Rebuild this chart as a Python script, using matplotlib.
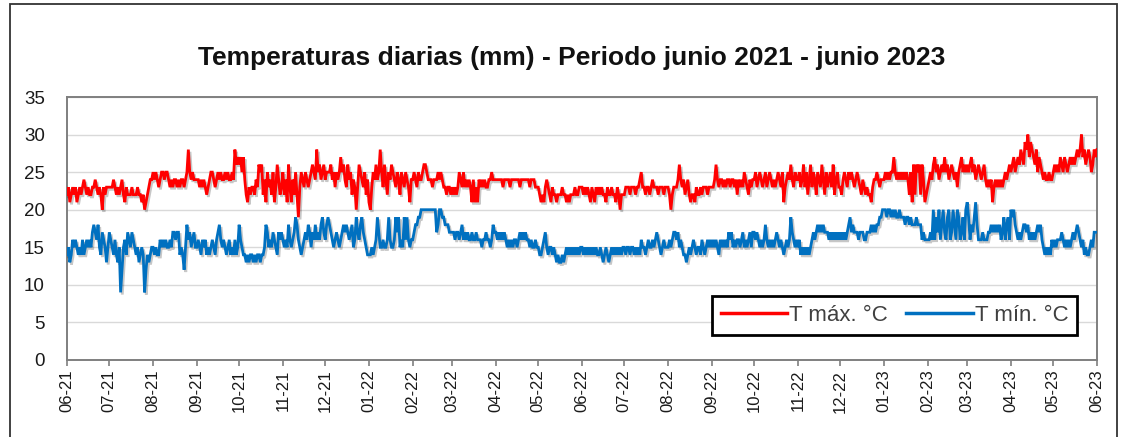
import matplotlib
matplotlib.use("Agg")
import matplotlib.pyplot as plt
import matplotlib.dates as mdates
import matplotlib.patheffects as pe
from matplotlib.patches import Rectangle
import pandas as pd

# ---------------- data (daily values) ----------------
start_date = "2021-06-01"
end_date = "2023-06-01"

tmax_2021 = [
    # Jun
    22,23,21,22,23,22,23,21,22,23, 22,23,24,23,22,23,22,22,23,23, 24,23,22,23,22,20,23,22,23,23,
    # Jul
    23,23,23,24,23,22,23,22,23,24, 22,21,23,22,22,22,23,22,22,22, 23,22,22,21,22,20,21,22,23,24, 24,
    # Aug
    25,24,25,24,23,24,25,25,24,25, 25,24,23,24,23,24,24,23,24,23, 24,24,23,24,25,28,25,24,25,24, 24,
    # Sep
    24,24,23,24,23,24,23,22,23,24, 25,25,24,23,24,25,24,25,24,24, 25,24,25,24,24,25,24,28,26,27,
    # Oct
    26,27,25,27,24,22,21,23,22,23, 23,22,24,23,26,25,26,22,24,21, 25,23,24,22,25,21,23,26,24,22, 23,
    # Nov
    25,22,24,21,26,23,21,24,22,25, 22,19,23,25,24,23,25,24,23,24, 25,26,25,24,28,25,26,24,25,26,
    # Dec
    24,25,25,25,26,24,25,23,25,24, 25,27,25,26,24,23,26,24,25,22, 24,23,20,23,26,25,24,23,25,22, 24,
]
tmax_2022 = [
    # Jan
    21,20,23,25,24,26,24,25,28,25, 23,26,24,22,25,24,26,25,24,23, 25,24,22,25,24,23,25,24,23,21, 24,
    # Feb
    24,25,24,23,25,24,24,25,26,26, 25,24,24,24,23,24,24,24,25,24, 25,24,23,23,22,23,23,22,
    # Mar
    23,22,23,22,23,25,24,23,25,23, 24,23,24,23,21,24,21,23,21,24, 23,24,23,24,23,23,24,24,25,24, 24,
    # Apr
    24,24,24,24,24,23,24,24,24,24, 23,24,24,24,24,24,24,23,24,24, 24,24,24,24,23,24,24,24,23,23,
    # May
    23,22,21,22,21,23,24,23,22,21, 23,22,22,21,22,22,22,23,22,22, 21,22,21,22,22,22,23,22,22,23, 23,
    # Jun
    23,22,23,22,23,22,21,23,22,21, 23,22,23,22,23,22,22,21,23,22, 22,23,22,22,21,23,22,20,22,22,
    # Jul
    22,23,23,23,22,23,23,23,22,23, 23,24,25,23,23,22,23,23,22,23, 24,23,23,23,22,23,23,23,22,23, 23,
    # Aug
    23,22,20,22,23,23,23,24,26,24, 23,24,22,23,24,22,21,22,22,21, 23,22,22,23,22,23,23,23,22,23, 23,
    # Sep
    23,23,24,26,24,23,24,24,23,24, 23,24,24,23,24,24,23,24,22,24, 23,24,23,25,24,23,22,24,23,24,
    # Oct
    24,25,23,24,25,24,23,24,25,23, 24,25,24,23,24,23,24,25,24,23, 25,21,23,24,25,24,26,24,23,25, 24,
    # Nov
    24,25,23,24,26,23,25,22,24,26, 23,25,24,22,25,24,23,26,24,22, 25,23,24,25,23,26,22,24,25,23,
    # Dec
    23,22,24,25,24,23,25,24,25,24, 23,24,25,24,23,22,24,23,22,23, 22,22,21,23,24,24,25,24,23,24, 24,
]
tmax_2023 = [
    # Jan
    24,25,24,25,24,25,25,27,25,24, 25,24,25,24,25,24,25,24,22,25, 21,26,22,26,25,26,22,26,24,21, 22,
    # Feb
    23,24,25,24,26,27,25,26,24,25, 26,25,27,25,26,24,25,26,25,24, 25,23,25,26,27,25,26,25,
    # Mar
    26,25,26,27,25,26,24,25,26,25, 24,25,26,24,23,24,23,24,21,23, 24,23,24,23,24,23,24,25,24,25, 26,
    # Apr
    25,26,27,25,26,27,26,28,27,26, 29,28,30,27,29,28,27,26,28,25, 27,26,25,24,25,24,24,25,24,24,
    # May + 1 Jun
    25,26,25,26,25,27,26,25,27,26, 25,26,27,26,27,26,27,28,27,28, 30,27,28,26,27,28,27,25,26,28, 27,28,
]

tmin_2021 = [
    # Jun
    14,15,13,14,16,15,16,15,14,15, 14,16,14,15,16,15,16,15,17,18, 17,16,18,15,14,17,16,15,13,15,
    # Jul
    17,16,15,14,16,14,13,15,9,12, 15,16,14,17,16,15,17,16,15,14, 15,13,14,15,14,9,12,14,13,14, 15,
    # Aug
    15,14,15,14,14,16,15,16,15,16, 15,15,16,15,17,17,16,17,17,14, 15,14,12,15,18,16,17,15,16,17, 15,
    # Sep
    15,16,15,14,16,15,16,14,15,14, 15,16,15,14,16,17,18,16,15,16, 15,14,15,16,14,15,14,16,14,15,
    # Oct
    18,16,15,14,14,13,14,13,14,14, 13,14,13,14,14,13,14,14,15,18, 17,15,16,15,17,16,15,14,17,16, 17,
    # Nov
    16,15,16,15,18,16,15,16,17,19, 18,16,15,14,15,16,17,16,18,17, 15,17,16,18,16,17,16,18,19,17,
    # Dec
    16,18,19,18,17,16,15,16,17,16, 15,16,17,18,17,18,17,16,17,18, 15,16,19,17,16,18,19,17,16,15, 14,
]
tmin_2022 = [
    # Jan
    14,14,15,14,15,16,19,17,15,15, 16,15,15,16,19,16,15,15,16,19, 17,19,15,16,15,19,16,19,16,15, 16,
    # Feb
    16,17,18,18,19,19,20,20,20,20, 20,20,20,20,20,20,20,17,18,20, 20,19,19,18,18,18,17,17,
    # Mar
    17,17,16,17,17,16,17,18,16,17, 16,17,16,16,17,16,16,17,16,16, 16,15,16,16,17,16,16,15,16,18, 17,
    # Apr
    17,16,17,16,17,16,17,16,15,16, 15,16,15,16,16,15,16,17,16,17, 16,17,16,16,15,16,15,15,16,15,
    # May
    15,14,14,15,16,17,15,14,15,15, 14,15,14,13,14,13,13,14,13,14, 15,14,15,14,15,14,15,14,15,14, 15,
    # Jun
    15,14,15,14,15,14,15,14,15,14, 15,14,14,15,14,13,14,15,14,13, 14,15,14,15,14,15,14,15,14,15,
    # Jul
    15,14,15,15,14,15,15,14,15,14, 15,14,16,15,15,14,15,16,15,15, 16,15,16,17,16,15,14,15,16,15, 15,
    # Aug
    15,16,15,16,17,17,16,17,15,16, 15,14,14,13,14,15,14,15,16,15, 14,15,15,14,16,15,14,15,16,15, 16,
    # Sep
    15,16,15,16,15,14,16,15,16,15, 16,15,17,16,17,15,16,15,16,16, 15,16,17,15,16,15,16,17,15,17,
    # Oct
    17,16,17,16,15,16,15,16,18,16, 15,16,15,16,15,16,17,16,15,16, 15,14,15,16,15,16,19,17,16,15, 16,
    # Nov
    15,16,14,15,14,15,14,15,14,15, 16,17,16,17,18,17,18,17,18,17, 17,17,16,17,16,17,16,17,16,17,
    # Dec
    16,17,16,17,16,17,18,19,17,18, 17,17,17,16,17,17,17,16,16,17, 17,17,18,17,18,17,18,18,19,19, 20,
]
tmin_2023 = [
    # Jan
    20,20,19,20,20,19,20,19,20,19, 19,20,19,19,19,18,19,19,18,19, 18,18,18,19,18,18,18,16,17,16, 16,
    # Feb
    16,16,17,16,20,16,19,17,20,16, 18,20,17,16,19,20,16,17,20,18, 16,20,19,16,17,19,16,20,
    # Mar
    21,19,16,18,17,19,21,18,16,16, 16,17,16,16,16,17,17,18,17,18, 17,18,17,18,16,17,19,16,18,19, 16,
    # Apr
    20,19,20,18,17,16,17,16,17,18, 18,17,18,16,17,16,17,16,17,18, 17,18,16,15,14,15,14,15,14,16,
    # May + 1 Jun
    15,16,15,16,16,16,17,16,15,16, 15,16,15,16,17,16,17,18,17,16, 15,16,14,15,14,14,15,16,15,17, 17,17,
]

series_labels = ["T máx. °C", "T mín. °C"]
title_text = "Temperaturas diarias (mm) - Periodo junio 2021 - junio 2023"
y_ticks = [0, 5, 10, 15, 20, 25, 30, 35]

tmax = tmax_2021 + tmax_2022 + tmax_2023
tmin = tmin_2021 + tmin_2022 + tmin_2023
dates_max = pd.date_range(start_date, periods=len(tmax), freq="D")
dates_min = pd.date_range(start_date, periods=len(tmin), freq="D")

# ---------------- figure ----------------
plt.rcParams["font.family"] = ["Liberation Sans", "DejaVu Sans"]

W, H = 1124, 437
fig = plt.figure(figsize=(W / 100, H / 100), dpi=100, facecolor="white")
ax = fig.add_axes([67 / W, 1 - 360 / H, (1097 - 67) / W, (360 - 97) / H])

shadow = [pe.SimpleLineShadow(offset=(1.2, -1.6), shadow_color="#000000", alpha=0.22), pe.Normal()]
ax.plot(dates_max, tmax, color="#FF0000", lw=2.0, label=series_labels[0],
        path_effects=shadow, solid_joinstyle="miter", zorder=3)
ax.plot(dates_min, tmin, color="#0070C0", lw=2.0, label=series_labels[1],
        path_effects=shadow, solid_joinstyle="miter", zorder=3)

ax.set_xlim(pd.Timestamp(start_date), pd.Timestamp(end_date))
ax.set_ylim(0, 35)
ax.set_yticks(y_ticks)
ax.yaxis.grid(True, color="#D9D9D9", lw=1.0, zorder=0)
ax.set_axisbelow(True)

ax.xaxis.set_major_locator(mdates.MonthLocator())
ax.xaxis.set_major_formatter(mdates.DateFormatter("%m-%y"))
ax.tick_params(axis="x", labelrotation=90, labelsize=12, length=4, width=1.2,
               color="#7F7F7F", pad=3, direction="out")
ax.tick_params(axis="y", labelsize=13.5, length=0, pad=16)
for lab in ax.get_xticklabels() + ax.get_yticklabels():
    lab.set_color("#1a1a1a")

for sp in ax.spines.values():
    sp.set_color("#7F7F7F")
    sp.set_linewidth(1.4)

fig.text((197 + 946) / 2 / W, 1 - 58 / H, title_text, ha="center", va="center",
         fontsize=19, fontweight="bold", color="#111111")

leg = ax.legend(loc="lower right", bbox_to_anchor=(0.981, 0.095), borderaxespad=0,
                ncol=2, fontsize=16, frameon=True, fancybox=False,
                edgecolor="black", facecolor="white", framealpha=1,
                handlelength=3.0, handletextpad=0.1, columnspacing=0.8,
                borderpad=0.4)
leg.get_frame().set_linewidth(2.0)
for line in leg.get_lines():
    line.set_linewidth(2.5)
    line.set_path_effects([])
for t in leg.get_texts():
    t.set_color("#404040")

fig.patches.append(Rectangle((10 / W, -0.1), (1117 - 10) / W, 1.1 - 4 / H,
                             transform=fig.transFigure, fill=False,
                             edgecolor="#333333", lw=1.3))

fig.savefig("out.png", dpi=100, facecolor="white")
